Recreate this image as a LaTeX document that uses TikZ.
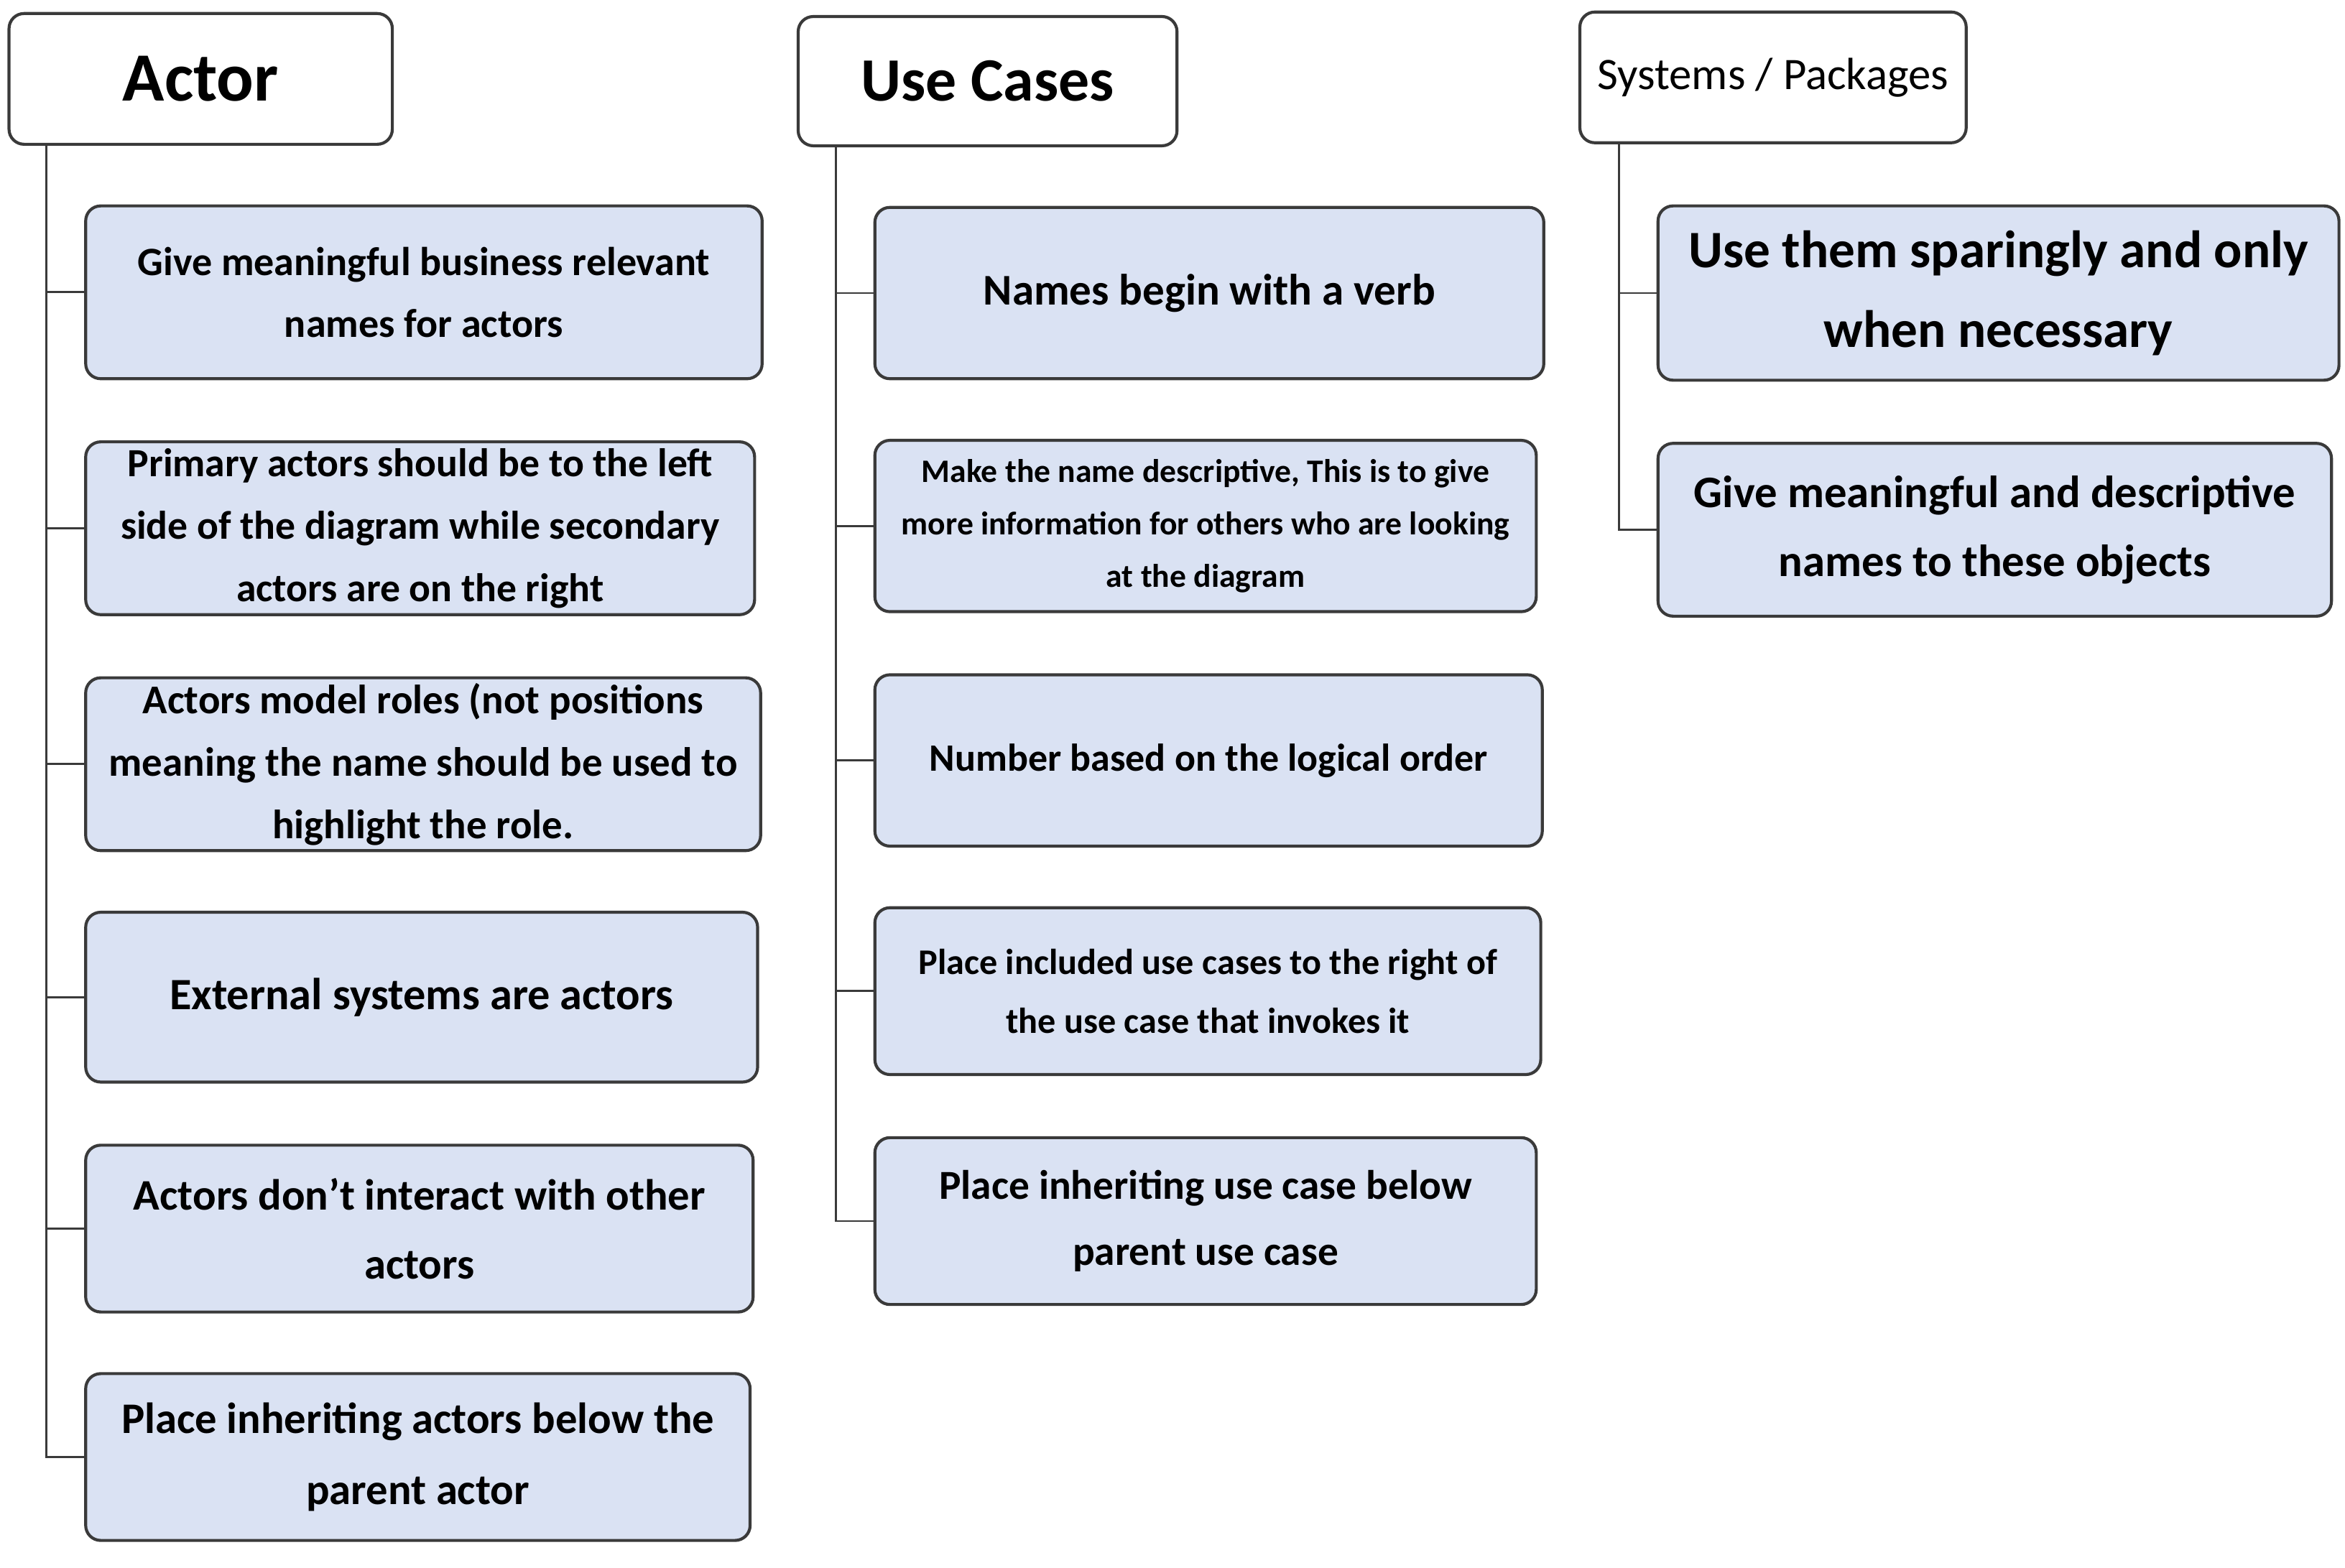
\documentclass[tikz,border=0pt]{standalone}
\usepackage{fontspec}
\setmainfont{Carlito}
\usetikzlibrary{positioning}
\definecolor{tipfill}{HTML}{DAE2F3}
\definecolor{edge}{HTML}{3A3A3A}
\newcommand{\boxfont}[2]{\fontsize{#1}{#2}\selectfont\bfseries}
\newcommand{\headfont}[2]{\fontsize{#1}{#2}\selectfont}

\begin{document}
\begin{tikzpicture}[x=0.5pt, y=-0.5pt,
  head/.style={rectangle, rounded corners=5pt, draw=edge, line width=1pt, fill=white, align=center, inner sep=1pt, anchor=north west},
  tip/.style={rectangle, rounded corners=5pt, draw=edge, line width=1pt, fill=tipfill, align=center, inner xsep=2pt, inner ysep=0.5pt},
  link/.style={draw=edge, line width=0.7pt}]
  \useasboundingbox (0,0) rectangle (1560,1043.3);

  % column heads
  \node[head, minimum width=127.5pt, minimum height=43.5pt, font=\boxfont{23}{28}] (actor) at (5,8) {Actor};
  \node[head, minimum width=126pt, minimum height=43pt, font=\boxfont{20.5}{25}] (usecase) at (530,10) {Use Cases};
  \node[head, minimum width=128.5pt, minimum height=43.5pt, font=\headfont{15}{18}] (system) at (1050,7) {Systems / Packages};
  \coordinate (acttrunk) at ([xshift=13pt]actor.south west);
  \coordinate (uctrunk) at ([xshift=13pt]usecase.south west);
  \coordinate (systrunk) at ([xshift=13.5pt]system.south west);

  % actor tips
  \node[tip, minimum width=225pt, minimum height=57.5pt, below right=19.5pt and 25.5pt of actor.south west, font=\boxfont{13.4}{20.75}] (act1) {Give meaningful business relevant\\names for actors};
  \node[tip, minimum width=222.5pt, minimum height=57.5pt, below right=20pt and 0pt of act1.south west, font=\boxfont{13.3}{20.75}] (act2) {Primary actors should be to the left\\side of the diagram while secondary\\actors are on the right};
  \node[tip, minimum width=224.5pt, minimum height=57.5pt, below right=20pt and 0pt of act2.south west, font=\boxfont{13.6}{20.75}] (act3) {Actors model roles (not positions\\meaning the name should be used to\\highlight the role.};
  \node[tip, minimum width=223.5pt, minimum height=56.5pt, below right=19.5pt and 0pt of act3.south west, font=\boxfont{14.9}{23}] (act4) {External systems are actors};
  \node[tip, minimum width=222pt, minimum height=55.5pt, below right=20pt and 0pt of act4.south west, font=\boxfont{14.5}{23}] (act5) {Actors don’t interact with other\\actors};
  \node[tip, minimum width=221pt, minimum height=55.5pt, below right=19.5pt and 0pt of act5.south west, font=\boxfont{14.5}{23.5}] (act6) {Place inheriting actors below the\\parent actor};

  % use case tips
  \node[tip, minimum width=222.5pt, minimum height=57pt, below right=19.5pt and 25.5pt of usecase.south west, font=\boxfont{14.6}{22}] (uc1) {Names begin with a verb};
  \node[tip, minimum width=220pt, minimum height=57pt, below right=19.5pt and 0pt of uc1.south west, font=\boxfont{10.9}{17.5}] (uc2) {Make the name descriptive, This is to give\\more information for others who are looking\\at the diagram};
  \node[tip, minimum width=222pt, minimum height=57pt, below right=20pt and 0pt of uc2.south west, font=\boxfont{12.9}{20}] (uc3) {Number based on the logical order};
  \node[tip, minimum width=221.5pt, minimum height=55.5pt, below right=19.5pt and 0pt of uc3.south west, font=\boxfont{12}{19.5}] (uc4) {Place included use cases to the right of\\the use case that invokes it};
  \node[tip, minimum width=220pt, minimum height=55.5pt, below right=20pt and 0pt of uc4.south west, font=\boxfont{13.7}{22}] (uc5) {Place inheriting use case below\\parent use case};

  % system tips
  \node[tip, minimum width=226.5pt, minimum height=58pt, below right=20pt and 26pt of system.south west, font=\boxfont{17.5}{26.5}] (sys1) {Use them sparingly and only\\when necessary};
  \node[tip, minimum width=224pt, minimum height=57.5pt, below right=20pt and 0pt of sys1.south west, font=\boxfont{15}{23}] (sys2) {Give meaningful and descriptive\\names to these objects};

  % branches
  \foreach \i in {1,...,6} \draw[link] (acttrunk) |- (act\i.west);
  \foreach \i in {1,...,5} \draw[link] (uctrunk) |- (uc\i.west);
  \foreach \i in {1,2} \draw[link] (systrunk) |- (sys\i.west);

\end{tikzpicture}
\end{document}
